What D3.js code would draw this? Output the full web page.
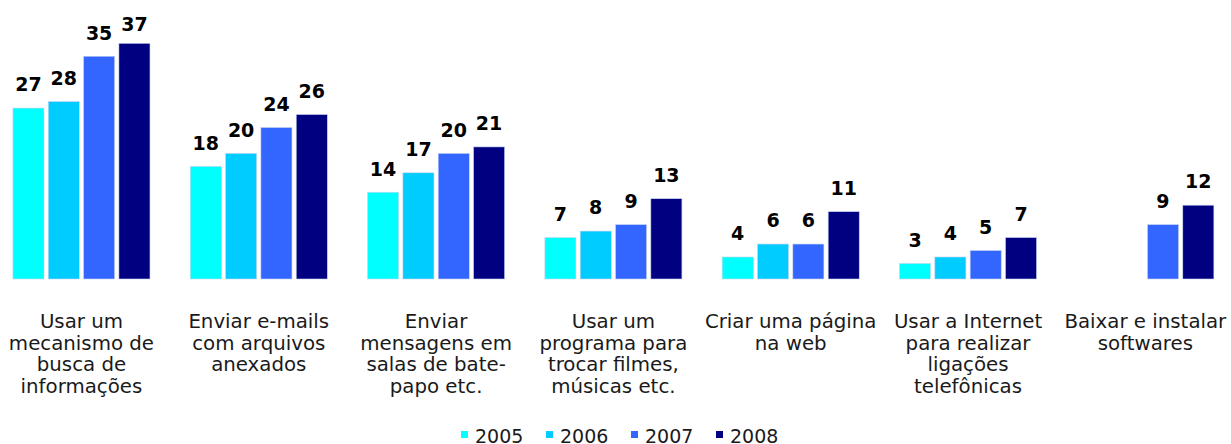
<!DOCTYPE html>
<html>
<head>
<meta charset="utf-8">
<script src="https://cdn.jsdelivr.net/npm/d3@7"></script>
<style>
  body { margin: 0; background: #fff; }
  svg { display: block; font-family: Verdana, "DejaVu Sans", sans-serif; }
</style>
</head>
<body>
<div id="chart"></div>
<script>
// categorias (quebras de linha como no original)
const categories = [
  "Usar um\nmecanismo de\nbusca de\ninformações",
  "Enviar e-mails\ncom arquivos\nanexados",
  "Enviar\nmensagens em\nsalas de bate-\npapo etc.",
  "Usar um\nprograma para\ntrocar filmes,\nmúsicas etc.",
  "Criar uma página\nna web",
  "Usar a Internet\npara realizar\nligações\ntelefônicas",
  "Baixar e instalar\nsoftwares"
];
const years = ["2005", "2006", "2007", "2008"];
const values2005 = [27, 18, 14, 7, 4, 3, null];
const values2006 = [28, 20, 17, 8, 6, 4, null];
const values2007 = [35, 24, 20, 9, 6, 5, 9];
const values2008 = [37, 26, 21, 13, 11, 7, 12];
const colors = ["#00ffff", "#00ccff", "#3366ff", "#000080"];

const width = 1231, height = 444;
const series = [values2005, values2006, values2007, values2008];

const svg = d3.select("#chart").append("svg")
  .attr("width", width)
  .attr("height", height);

const x0 = d3.scaleBand()
  .domain(categories)
  .range([-7.2, 1234])
  .paddingInner(0.227)
  .paddingOuter(0.1135);

const x1 = d3.scaleBand()
  .domain(years)
  .range([0, x0.bandwidth()])
  .paddingInner(0.12);

// o eixo do original não começa exatamente em zero
const y = d3.scaleLinear()
  .domain([0.6, 37])
  .range([279, 43.3]);

const color = d3.scaleOrdinal().domain(years).range(colors);

const groups = svg.append("g").selectAll("g")
  .data(categories)
  .enter().append("g")
  .attr("transform", d => "translate(" + x0(d) + ",0)");

const cells = groups.selectAll(".cell")
  .data((c, i) => years.map((yr, j) => ({ year: yr, value: series[j][i] }))
    .filter(d => d.value != null))
  .enter().append("g")
  .attr("class", "cell");

cells.append("rect")
  .attr("x", d => x1(d.year))
  .attr("y", d => y(d.value))
  .attr("width", x1.bandwidth())
  .attr("height", d => y.range()[0] - y(d.value))
  .attr("fill", d => color(d.year))
  .attr("stroke", "#c8d4f0")
  .attr("stroke-width", 0.6);

cells.append("text")
  .attr("x", d => x1(d.year) + x1.bandwidth() / 2)
  .attr("y", d => Math.max(y(d.value) - 16.7, 30.7))
  .attr("text-anchor", "middle")
  .style("font-size", "19px")
  .style("font-weight", "bold")
  .attr("fill", "#000")
  .text(d => d.value);

// rótulos das categorias
const labels = svg.append("g").selectAll("text")
  .data(categories)
  .enter().append("text")
  .attr("text-anchor", "middle")
  .attr("x", d => x0(d) + x0.bandwidth() / 2)
  .attr("y", 328)
  .style("font-size", "19.8px")
  .attr("fill", "#1a1a1a");

labels.selectAll("tspan")
  .data(d => d.split("\n"))
  .enter().append("tspan")
  .attr("x", function () { return d3.select(this.parentNode).attr("x"); })
  .attr("dy", (d, i) => i === 0 ? 0 : 21.7)
  .text(d => d);

// legenda
const legend = svg.append("g").attr("transform", "translate(461,0)");
const item = legend.selectAll("g")
  .data(years)
  .enter().append("g")
  .attr("transform", (d, i) => "translate(" + (i * 85) + ",0)");

item.append("rect")
  .attr("y", 431)
  .attr("width", 7)
  .attr("height", 7)
  .attr("fill", d => color(d));

item.append("text")
  .attr("x", 14)
  .attr("y", 443)
  .style("font-size", "19px")
  .attr("fill", "#1a1a1a")
  .text(d => d);
</script>
</body>
</html>
